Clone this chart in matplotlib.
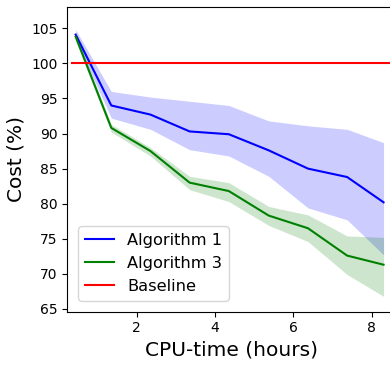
import matplotlib.pyplot as plt

# CPU-time (hours) at each checkpoint
hours = [0.44, 1.35, 2.35, 3.35, 4.35, 5.37, 6.37, 7.37, 8.3]

# Algorithm 1: mean cost and band
alg1_mean = [104.1, 94.0, 92.7, 90.3, 89.9, 87.6, 85.0, 83.8, 80.2]
alg1_upper = [104.8, 96.0, 95.2, 94.6, 94.0, 91.8, 91.1, 90.6, 88.7]
alg1_lower = [103.5, 92.2, 90.6, 87.7, 86.8, 83.9, 79.4, 77.7, 72.7]

# Algorithm 3: mean cost and band
alg3_mean = [103.8, 90.8, 87.5, 83.0, 81.8, 78.3, 76.5, 72.6, 71.3]
alg3_upper = [104.3, 91.3, 88.0, 83.9, 83.0, 79.6, 78.4, 75.4, 75.2]
alg3_lower = [103.2, 90.2, 86.8, 82.0, 80.3, 76.9, 74.6, 69.9, 66.8]

baseline_x = [0.35, 9.0]
baseline_y = [100, 100]

fig = plt.figure(figsize=(3.9, 3.65), dpi=100)
ax = fig.add_axes([0.1726, 0.146, 0.841, 0.836])

ax.plot(hours, alg1_mean, color='blue', label='Algorithm 1')
ax.fill_between(hours, alg1_lower, alg1_upper, color='blue', alpha=0.2, linewidth=0)
ax.plot(hours, alg3_mean, color='green', label='Algorithm 3')
ax.fill_between(hours, alg3_lower, alg3_upper, color='green', alpha=0.2, linewidth=0)
ax.plot(baseline_x, baseline_y, color='red', label='Baseline')

ax.set_xlim(0.227, 8.6)
ax.set_ylim(64.6, 108.1)
ax.set_xticks([2, 4, 6, 8])
ax.set_yticks([65, 70, 75, 80, 85, 90, 95, 100, 105])

ax.set_xlabel('CPU-time (hours)', fontsize=14.5)
ax.set_ylabel('Cost (%)', fontsize=14.5)
ax.legend(loc='lower left', fontsize=11.7, borderaxespad=0.68, handlelength=1.8)

fig.savefig('out.png', dpi=100)
